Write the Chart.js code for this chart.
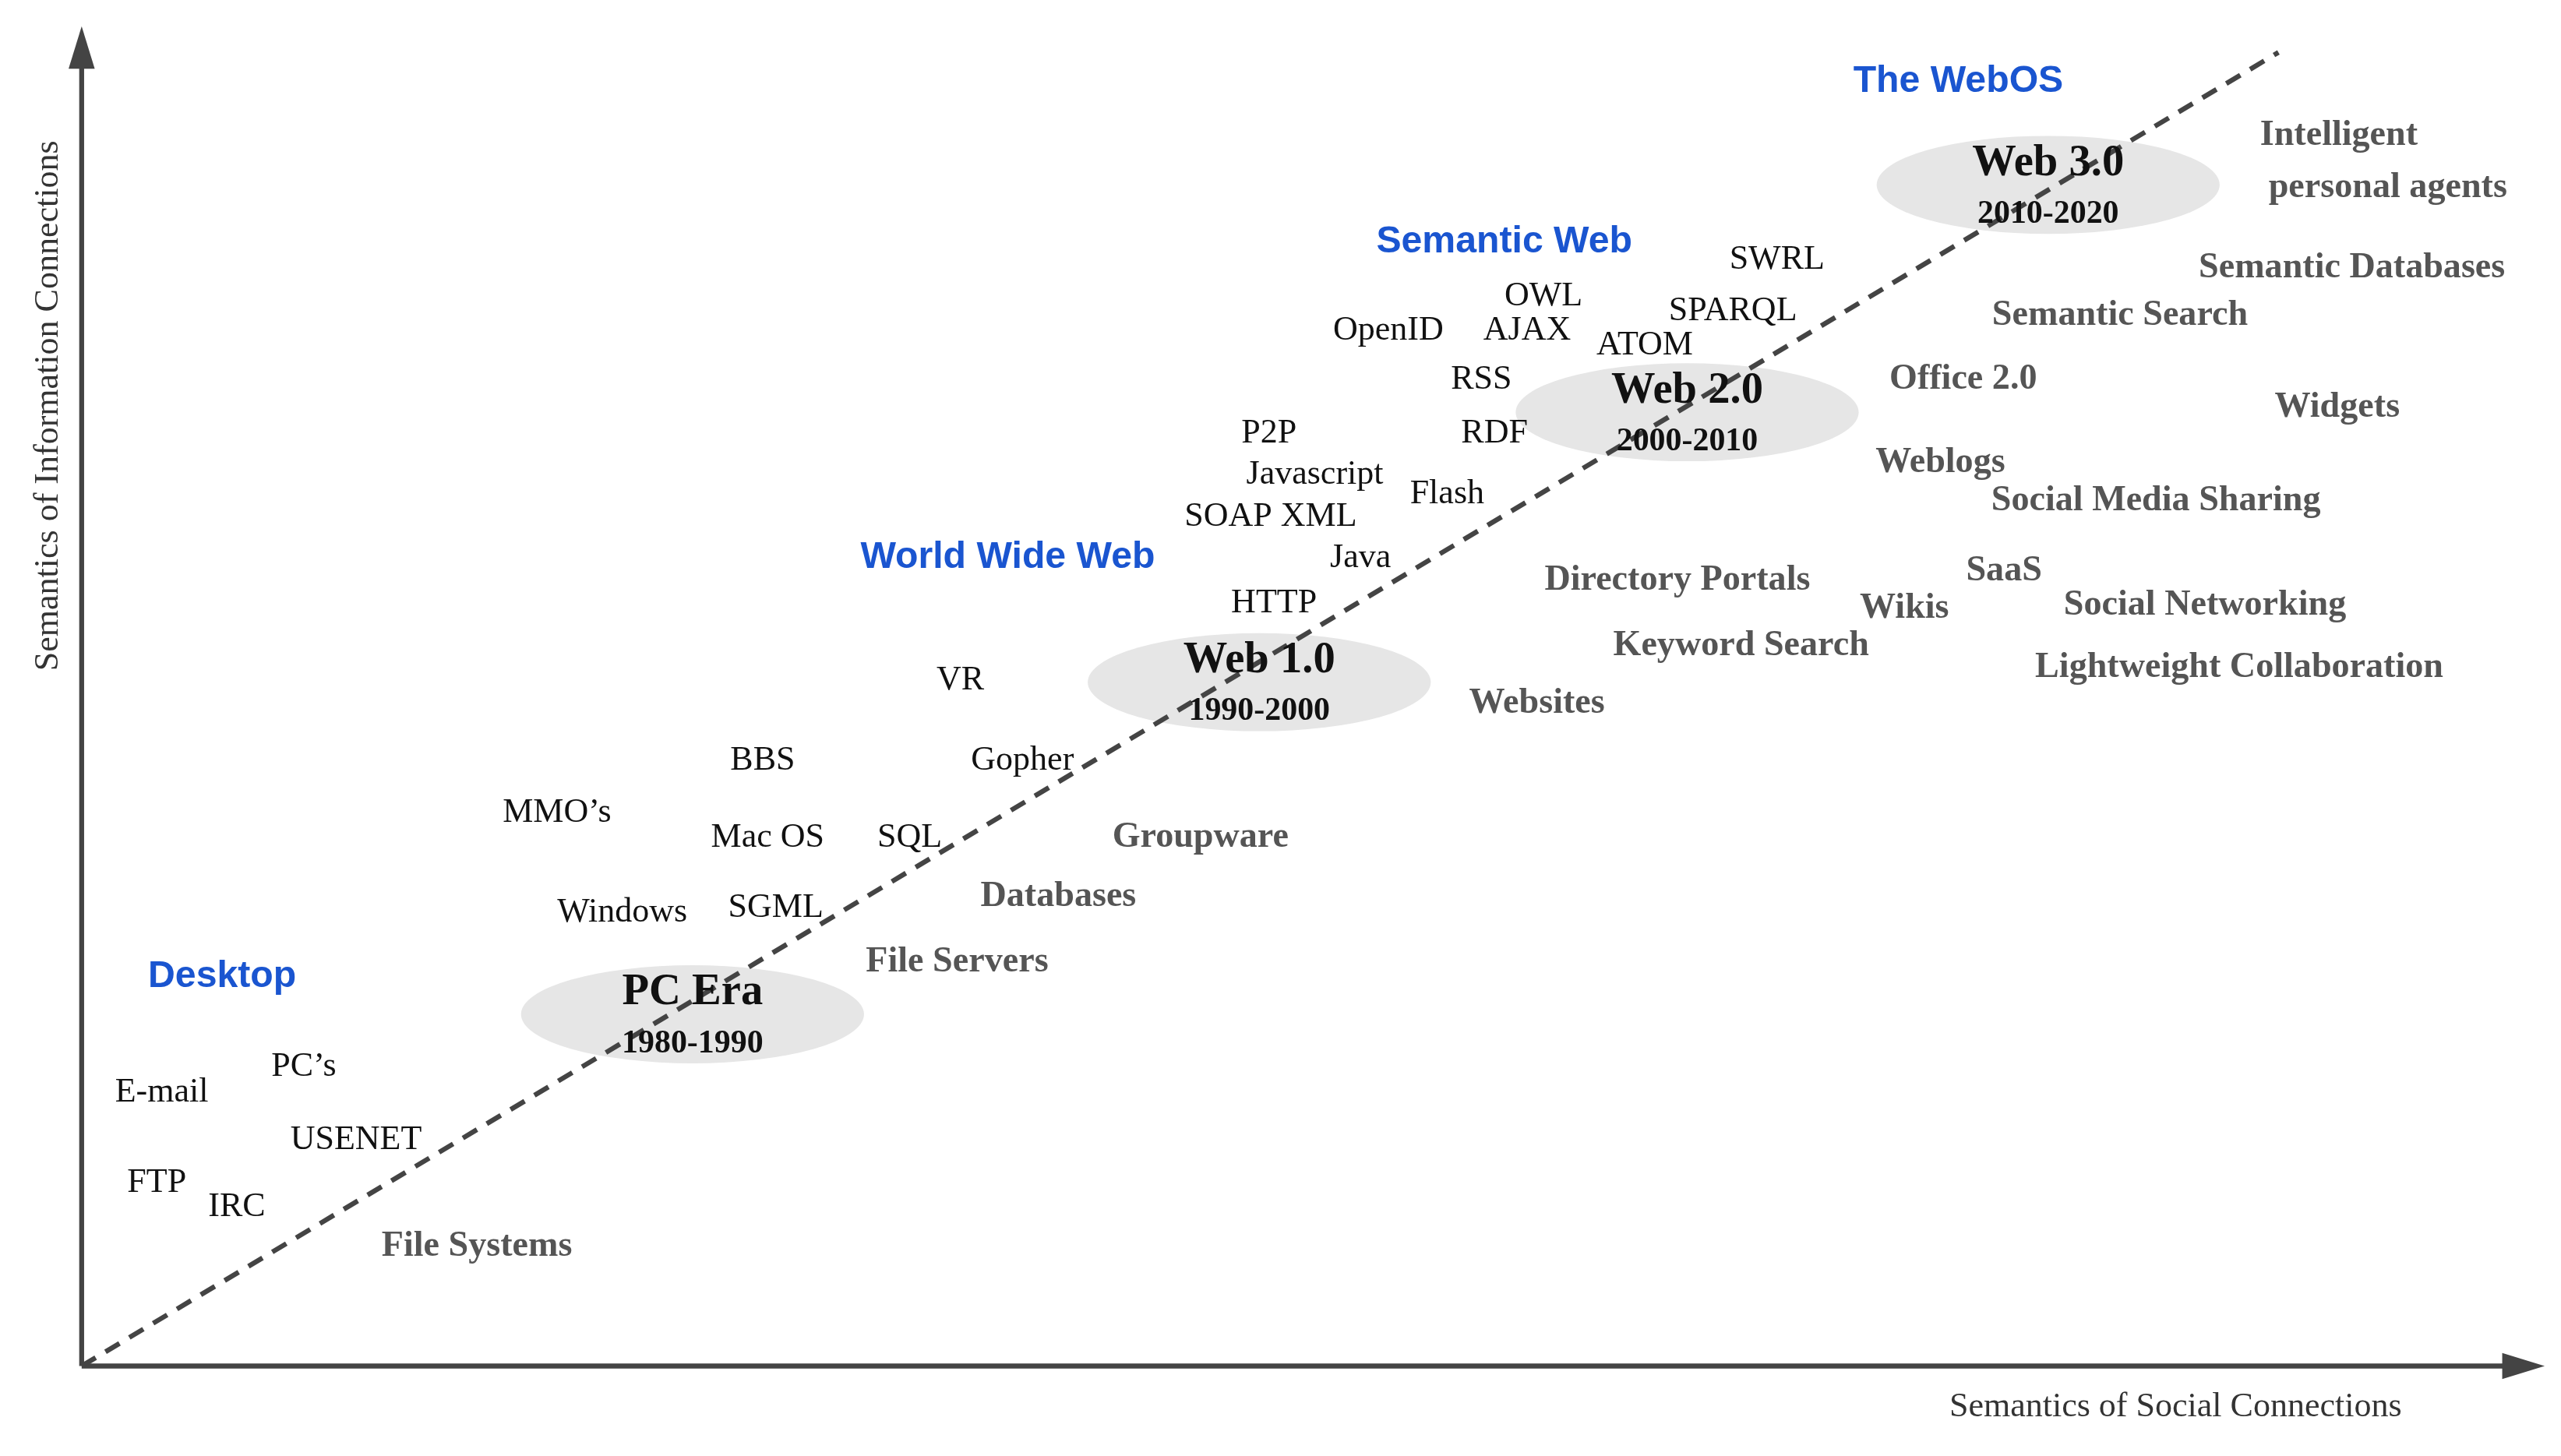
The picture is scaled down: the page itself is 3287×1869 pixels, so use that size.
<!DOCTYPE html>
<html>
<head>
<meta charset="utf-8">
<script src="https://cdn.jsdelivr.net/npm/chart.js@4/dist/chart.umd.min.js"></script>
<style>
  html, body { margin: 0; padding: 0; background: #fff; }
  #wrap { width: 3287px; height: 1869px; }
</style>
</head>
<body>
<div id="wrap"><canvas id="webChart"></canvas></div>
<script>
// positions are in units of the original figure (1568 x 890)
var techLabels = ["E-mail", "PC\u2019s", "FTP", "IRC", "USENET", "Windows", "SGML", "MMO\u2019s", "BBS", "Mac OS", "SQL", "VR", "Gopher", "HTTP", "Java", "SOAP XML", "Javascript", "P2P", "Flash", "RDF", "RSS", "OpenID", "AJAX", "OWL", "ATOM", "SPARQL", "SWRL"];
var techX = [99, 186, 96, 145, 218, 381, 475, 341, 467, 470, 557, 588, 626, 780, 833, 778, 805, 777, 886, 915, 907, 850, 935, 945, 1007, 1061, 1088];
var techY = [668, 652, 723, 738, 697, 558, 555, 497, 465, 512, 512, 416, 465, 369, 341, 316, 290, 265, 302, 265, 232, 202, 202, 181, 211, 190, 159];

var useLabels = ["File Systems", "File Servers", "Databases", "Groupware", "Websites", "Keyword Search", "Directory Portals", "Wikis", "SaaS", "Social Networking", "Lightweight Collaboration", "Weblogs", "Social Media Sharing", "Office 2.0", "Widgets", "Semantic Search", "Semantic Databases", "Intelligent", "personal agents"];
var useX = [292, 586, 648, 735, 941, 1066, 1027, 1166, 1227, 1350, 1371, 1188, 1320, 1202, 1431, 1298, 1440, 1432, 1462];
var useY = [762, 588, 548, 512, 430, 395, 355, 372, 349, 370, 408, 283, 306, 232, 249, 193, 164, 83, 115];

var eraNames = ["PC Era", "Web 1.0", "Web 2.0", "Web 3.0"];
var eraYears = ["1980-1990", "1990-2000", "2000-2010", "2010-2020"];
var eraX = [424, 771, 1033, 1254];
var eraY = [620, 417, 252, 113];

var stageLabels = ["Desktop", "World Wide Web", "Semantic Web", "The WebOS"];
var stageX = [136, 617, 921, 1199];
var stageY = [597, 341, 148, 50];

var trendX = [50, 1395];
var trendY = [835, 32];

var S = 3287 / 1568;

var overlay = {
  id: 'overlay',
  beforeDatasetsDraw: function(chart) {
    var c = chart.ctx, xs = chart.scales.x, ys = chart.scales.y;
    c.save();
    c.fillStyle = '#e6e6e6';
    for (var i = 0; i < eraX.length; i++) {
      c.beginPath();
      c.ellipse(xs.getPixelForValue(eraX[i]), ys.getPixelForValue(eraY[i]), 105 * S, 30 * S, 0, 0, Math.PI * 2);
      c.fill();
    }
    // axes
    c.strokeStyle = '#444'; c.fillStyle = '#444'; c.lineWidth = 3 * S;
    var ox = xs.getPixelForValue(50), oy = ys.getPixelForValue(835);
    var tx = xs.getPixelForValue(1548), ty = ys.getPixelForValue(26);
    c.beginPath(); c.moveTo(ox, oy); c.lineTo(tx, oy); c.moveTo(ox, oy); c.lineTo(ox, ty); c.stroke();
    c.beginPath(); c.moveTo(tx + 10 * S, oy); c.lineTo(tx - 16 * S, oy - 8 * S); c.lineTo(tx - 16 * S, oy + 8 * S); c.fill();
    c.beginPath(); c.moveTo(ox, ty - 10 * S); c.lineTo(ox - 8 * S, ty + 16 * S); c.lineTo(ox + 8 * S, ty + 16 * S); c.fill();
    c.restore();
  },
  afterDatasetsDraw: function(chart) {
    var c = chart.ctx, xs = chart.scales.x, ys = chart.scales.y;
    c.save();
    c.textAlign = 'center'; c.textBaseline = 'middle';
    c.fillStyle = '#111';
    c.font = (21 * S) + 'px "Liberation Serif"';
    techLabels.forEach(function(t, i) { c.fillText(t, xs.getPixelForValue(techX[i]), ys.getPixelForValue(techY[i])); });
    c.fillStyle = '#555';
    c.font = 'bold ' + (22 * S) + 'px "Liberation Serif"';
    useLabels.forEach(function(t, i) { c.fillText(t, xs.getPixelForValue(useX[i]), ys.getPixelForValue(useY[i])); });
    c.fillStyle = '#111';
    eraNames.forEach(function(t, i) {
      c.font = 'bold ' + (27 * S) + 'px "Liberation Serif"';
      c.fillText(t, xs.getPixelForValue(eraX[i]), ys.getPixelForValue(eraY[i] - 13));
      c.font = 'bold ' + (20 * S) + 'px "Liberation Serif"';
      c.fillText(eraYears[i], xs.getPixelForValue(eraX[i]), ys.getPixelForValue(eraY[i] + 18));
    });
    c.fillStyle = '#1a55d0';
    c.font = 'bold ' + (23 * S) + 'px "Liberation Sans"';
    stageLabels.forEach(function(t, i) { c.fillText(t, xs.getPixelForValue(stageX[i]), ys.getPixelForValue(stageY[i])); });
    c.fillStyle = '#333';
    c.font = (21 * S) + 'px "Liberation Serif"';
    c.fillText('Semantics of Social Connections', xs.getPixelForValue(1332), ys.getPixelForValue(860));
    c.translate(xs.getPixelForValue(30), ys.getPixelForValue(248));
    c.rotate(-Math.PI / 2);
    c.fillText('Semantics of Information Connections', 0, 0);
    c.restore();
  }
};

new Chart(document.getElementById('webChart').getContext('2d'), {
  type: 'scatter',
  data: {
    datasets: [{
      data: trendX.map(function(x, i) { return { x: x, y: trendY[i] }; }),
      showLine: true,
      borderColor: '#444',
      borderWidth: 3 * S,
      borderDash: [10 * S, 7 * S],
      pointRadius: 0
    }]
  },
  options: {
    responsive: true,
    maintainAspectRatio: false,
    animation: false,
    layout: { padding: 0 },
    plugins: { legend: { display: false }, tooltip: { enabled: false } },
    scales: {
      x: { type: 'linear', min: 0, max: 1568, display: false },
      y: { type: 'linear', min: 0, max: 890, reverse: true, display: false }
    }
  },
  plugins: [overlay]
});
</script>
</body>
</html>
